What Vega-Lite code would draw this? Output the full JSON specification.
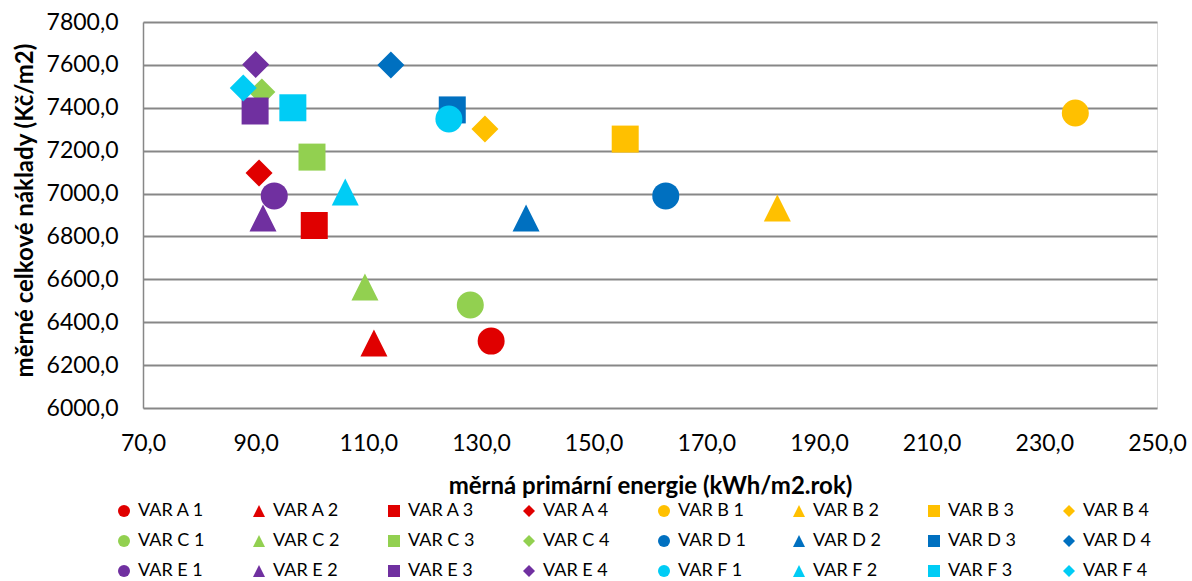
{
  "$schema": "https://vega.github.io/schema/vega-lite/v6.json",
  "width": 1014,
  "height": 386,
  "autosize": {"type": "none"},
  "padding": {"left": 143, "top": 22, "right": 35, "bottom": 173},
  "background": "white",
  "data": {
    "values": [
      {"serie": "VAR A 1", "energie": 131.8, "naklady": 6312},
      {"serie": "VAR A 2", "energie": 111.0, "naklady": 6303},
      {"serie": "VAR A 3", "energie": 100.4, "naklady": 6851},
      {"serie": "VAR A 4", "energie": 90.6, "naklady": 7096},
      {"serie": "VAR B 1", "energie": 235.5, "naklady": 7376},
      {"serie": "VAR B 2", "energie": 182.6, "naklady": 6933},
      {"serie": "VAR B 3", "energie": 155.6, "naklady": 7254},
      {"serie": "VAR B 4", "energie": 130.7, "naklady": 7301},
      {"serie": "VAR C 1", "energie": 128.1, "naklady": 6480},
      {"serie": "VAR C 2", "energie": 109.4, "naklady": 6564},
      {"serie": "VAR C 3", "energie": 100.0, "naklady": 7170},
      {"serie": "VAR C 4", "energie": 91.1, "naklady": 7474},
      {"serie": "VAR D 1", "energie": 162.8, "naklady": 6989},
      {"serie": "VAR D 2", "energie": 138.0, "naklady": 6886},
      {"serie": "VAR D 3", "energie": 124.9, "naklady": 7390},
      {"serie": "VAR D 4", "energie": 114.0, "naklady": 7600},
      {"serie": "VAR E 1", "energie": 93.3, "naklady": 6989},
      {"serie": "VAR E 2", "energie": 91.3, "naklady": 6886},
      {"serie": "VAR E 3", "energie": 89.9, "naklady": 7385},
      {"serie": "VAR E 4", "energie": 90.0, "naklady": 7602},
      {"serie": "VAR F 1", "energie": 124.3, "naklady": 7348},
      {"serie": "VAR F 2", "energie": 105.9, "naklady": 7007},
      {"serie": "VAR F 3", "energie": 96.6, "naklady": 7400},
      {"serie": "VAR F 4", "energie": 87.8, "naklady": 7492}
    ]
  },
  "mark": {"type": "point", "filled": true, "size": 729, "opacity": 1},
  "encoding": {
    "x": {
      "field": "energie",
      "type": "quantitative",
      "scale": {"domain": [70, 250], "nice": false, "zero": false},
      "axis": {
        "values": [70, 90, 110, 130, 150, 170, 190, 210, 230, 250],
        "labelExpr": "replace(format(datum.value,'.1f'),'.',',')",
        "grid": false,
        "domain": false,
        "ticks": false,
        "labelFont": "Lato",
        "labelFontSize": 23,
        "labelColor": "#000000",
        "labelPadding": 24,
        "labelFlush": false,
        "title": "měrná primární energie (kWh/m2.rok)",
        "titleFont": "Lato",
        "titleFontSize": 24,
        "titleFontWeight": "bold",
        "titleColor": "#000000",
        "titlePadding": 19
      }
    },
    "y": {
      "field": "naklady",
      "type": "quantitative",
      "scale": {"domain": [6000, 7800], "nice": false, "zero": false},
      "axis": {
        "values": [6000, 6200, 6400, 6600, 6800, 7000, 7200, 7400, 7600, 7800],
        "labelExpr": "replace(format(datum.value,'.1f'),'.',',')",
        "grid": true,
        "gridColor": "#878787",
        "gridWidth": 2,
        "domain": true,
        "domainColor": "#878787",
        "domainWidth": 1.5,
        "ticks": false,
        "labelFont": "Lato",
        "labelFontSize": 23,
        "labelColor": "#000000",
        "labelPadding": 25,
        "labelFlush": false,
        "title": "měrné celkové náklady (Kč/m2)",
        "titleFont": "Lato",
        "titleFontSize": 24,
        "titleFontWeight": "bold",
        "titleColor": "#000000",
        "titleX": -106,
        "titleY": 188,
        "titleAngle": -90,
        "titleBaseline": "bottom",
        "titleAlign": "center"
      }
    },
    "color": {
      "field": "serie",
      "type": "nominal",
      "scale": {
        "domain": ["VAR A 1","VAR A 2","VAR A 3","VAR A 4","VAR B 1","VAR B 2","VAR B 3","VAR B 4","VAR C 1","VAR C 2","VAR C 3","VAR C 4","VAR D 1","VAR D 2","VAR D 3","VAR D 4","VAR E 1","VAR E 2","VAR E 3","VAR E 4","VAR F 1","VAR F 2","VAR F 3","VAR F 4"],
        "range": ["#E00000","#E00000","#E00000","#E00000","#FFC000","#FFC000","#FFC000","#FFC000","#92D050","#92D050","#92D050","#92D050","#0070C0","#0070C0","#0070C0","#0070C0","#7030A0","#7030A0","#7030A0","#7030A0","#00CCF5","#00CCF5","#00CCF5","#00CCF5"]
      },
      "legend": {
        "title": null,
        "orient": "none",
        "legendX": -28,
        "legendY": 480,
        "direction": "horizontal",
        "columns": 8,
        "gridAlign": "all",
        "columnPadding": 43,
        "rowPadding": 12,
        "symbolSize": 144,
        "labelFont": "Lato",
        "labelFontSize": 18,
        "labelColor": "#000000",
        "labelOffset": 5,
        "labelLimit": 200
      }
    },
    "shape": {
      "field": "serie",
      "type": "nominal",
      "scale": {
        "domain": ["VAR A 1","VAR A 2","VAR A 3","VAR A 4","VAR B 1","VAR B 2","VAR B 3","VAR B 4","VAR C 1","VAR C 2","VAR C 3","VAR C 4","VAR D 1","VAR D 2","VAR D 3","VAR D 4","VAR E 1","VAR E 2","VAR E 3","VAR E 4","VAR F 1","VAR F 2","VAR F 3","VAR F 4"],
        "range": ["circle","M0,-1L1,1L-1,1Z","square","M0,-1L1,0L0,1L-1,0Z","circle","M0,-1L1,1L-1,1Z","square","M0,-1L1,0L0,1L-1,0Z","circle","M0,-1L1,1L-1,1Z","square","M0,-1L1,0L0,1L-1,0Z","circle","M0,-1L1,1L-1,1Z","square","M0,-1L1,0L0,1L-1,0Z","circle","M0,-1L1,1L-1,1Z","square","M0,-1L1,0L0,1L-1,0Z","circle","M0,-1L1,1L-1,1Z","square","M0,-1L1,0L0,1L-1,0Z"]
      }
    }
  }
}
